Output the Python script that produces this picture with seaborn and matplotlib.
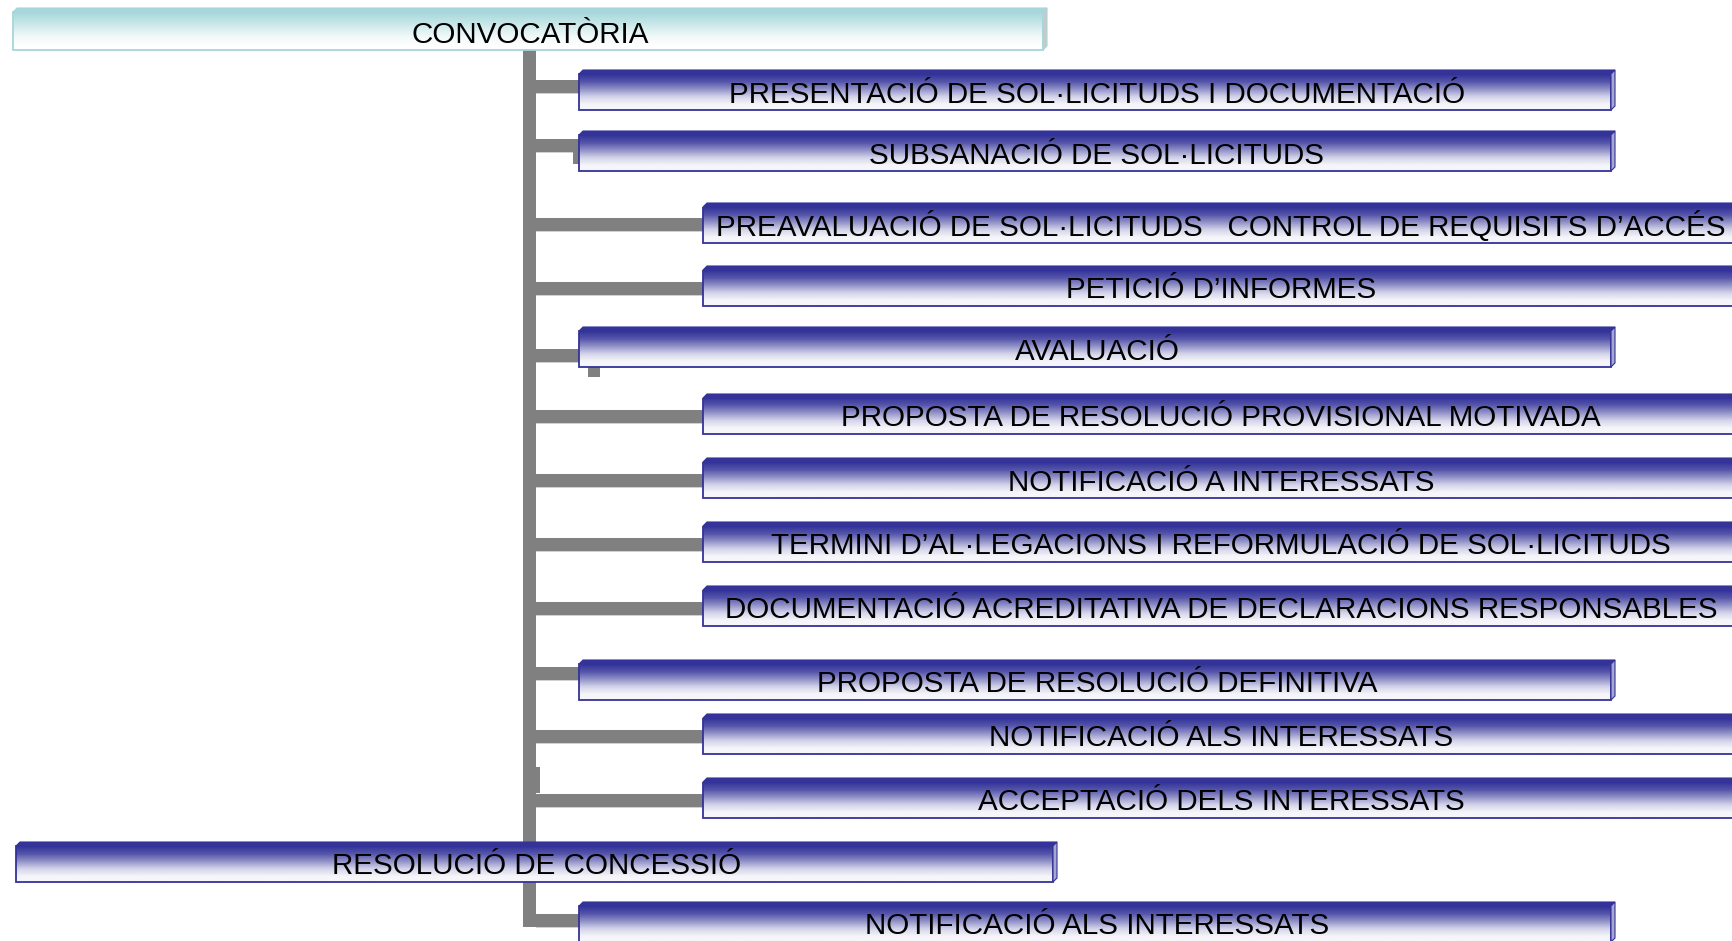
import numpy as np
import matplotlib
matplotlib.use("Agg")
import matplotlib.pyplot as plt
import seaborn as sns
from matplotlib.patches import Polygon, Rectangle

# Steps of the procedure, top to bottom
STEPS = [
    "CONVOCATÒRIA",
    "PRESENTACIÓ DE SOL·LICITUDS I DOCUMENTACIÓ",
    "SUBSANACIÓ DE SOL·LICITUDS",
    "PREAVALUACIÓ DE SOL·LICITUDS   CONTROL DE REQUISITS D’ACCÉS",
    "PETICIÓ D’INFORMES",
    "AVALUACIÓ",
    "PROPOSTA DE RESOLUCIÓ PROVISIONAL MOTIVADA",
    "NOTIFICACIÓ A INTERESSATS",
    "TERMINI D’AL·LEGACIONS I REFORMULACIÓ DE SOL·LICITUDS",
    "DOCUMENTACIÓ ACREDITATIVA DE DECLARACIONS RESPONSABLES",
    "PROPOSTA DE RESOLUCIÓ DEFINITIVA",
    "NOTIFICACIÓ ALS INTERESSATS",
    "ACCEPTACIÓ DELS INTERESSATS",
    "RESOLUCIÓ DE CONCESSIÓ",
    "NOTIFICACIÓ ALS INTERESSATS",
]
# indentation level of each step (0 = on the trunk, 1 / 2 = branches)
LEVELS = [0, 1, 1, 2, 2, 1, 2, 2, 2, 2, 1, 2, 2, 0, 1]

# layout (pixel space)
W, H = 1733, 941
ROW_TOP = [8, 70, 131, 203, 266, 327, 394, 458, 522, 586, 660, 714, 778, 842, 902]
LINK_TOP = [None, 80, 139, 218, 282, 349, 410, 474, 538, 602, 667, 730, 794, None, 914]
LEVEL_LEFT = {0: 14, 1: 579, 2: 703}
BOX_W, BOX_H = 1036, 40
TRUNK_X0, TRUNK_X1 = 523, 536
TRUNK_Y0, TRUNK_Y1 = 50, 927
LINK_H = 12.5
GREY = "#808080"

sns.set_style("white")
plt.rcParams["font.family"] = ["Liberation Sans", "DejaVu Sans"]

blue_cmap = sns.blend_palette(["#333399", "#5555ab", "#9393c8", "#d4d4ea", "#f6f6fa"], as_cmap=True)
cyan_cmap = sns.blend_palette(["#a6d8db", "#bfe3e5", "#dbeff0", "#f3fafa", "#ffffff"], as_cmap=True)


def draw_box(ax, x0, y0, w, h, label, cmap, edge, side, z, reach=0.85):
    b = 4
    x1, y1 = x0 + w, y0 + h
    t = np.linspace(0, 1, 80)
    prof = np.clip(t / reach, 0, 1)
    ax.imshow(prof[:, None], extent=(x0, x1 - b, y1, y0 + b), cmap=cmap,
              vmin=0, vmax=1, aspect="auto", interpolation="bilinear", zorder=z)
    ax.add_patch(Rectangle((x0, y0 + b), w - b, h - b, fill=False, ec=edge, lw=1.3, zorder=z + 0.1))
    ax.add_patch(Polygon([(x0, y0 + b), (x0 + b, y0), (x1, y0), (x1 - b, y0 + b)],
                         closed=True, fc=edge, ec=edge, lw=0.8, zorder=z + 0.1))
    ax.add_patch(Polygon([(x1 - b, y0 + b), (x1, y0), (x1, y1 - b), (x1 - b, y1)],
                         closed=True, fc=side, ec=edge, lw=0.8, zorder=z + 0.1))
    ax.text((x0 + x1) / 2, y1 - 7.5, label, ha="center", va="baseline",
            fontsize=21.3, color="black", zorder=z + 0.2)


fig = plt.figure(figsize=(W / 100, H / 100), dpi=100)
ax = fig.add_axes([0, 0, 1, 1])

# trunk
ax.add_patch(Rectangle((TRUNK_X0, TRUNK_Y0), TRUNK_X1 - TRUNK_X0, TRUNK_Y1 - TRUNK_Y0,
                       fc=GREY, ec="none", zorder=1))
ax.add_patch(Rectangle((TRUNK_X1, 767), 4, 26, fc=GREY, ec="none", zorder=1))

# branches
for i, (lvl, top, link) in enumerate(zip(LEVELS, ROW_TOP, LINK_TOP)):
    if link is None:
        continue
    x_end = LEVEL_LEFT[lvl]
    ax.add_patch(Rectangle((TRUNK_X0, link), x_end - TRUNK_X0, LINK_H, fc=GREY, ec="none", zorder=1))
    ax.add_patch(Rectangle((TRUNK_X1, link + LINK_H), x_end - TRUNK_X1, 1.5,
                           fc="#d0d0d0", ec="none", zorder=1))

# small leftover stubs under two branches
ax.add_patch(Rectangle((573, 150), 6, 14, fc=GREY, ec="none", zorder=1))
ax.add_patch(Rectangle((588, 367), 12, 10, fc=GREY, ec="none", zorder=1))

# boxes
for i, (label, lvl, top) in enumerate(zip(STEPS, LEVELS, ROW_TOP)):
    x0 = LEVEL_LEFT[lvl]
    if i == 0:
        draw_box(ax, 13, top, 1034, 42, label, cyan_cmap, "#a8d6da", "#c8c8c8", 3, reach=0.9)
    elif i == 13:
        draw_box(ax, 16, top, 1041, BOX_H, label, blue_cmap, "#333399", "#a6a6cf", 3)
    else:
        draw_box(ax, x0, top, BOX_W, BOX_H, label, blue_cmap, "#333399", "#a6a6cf", 3)

ax.set_xlim(0, W)
ax.set_ylim(H, 0)
ax.axis("off")
sns.despine(left=True, bottom=True)
fig.savefig("out.png", dpi=100, facecolor="white")
